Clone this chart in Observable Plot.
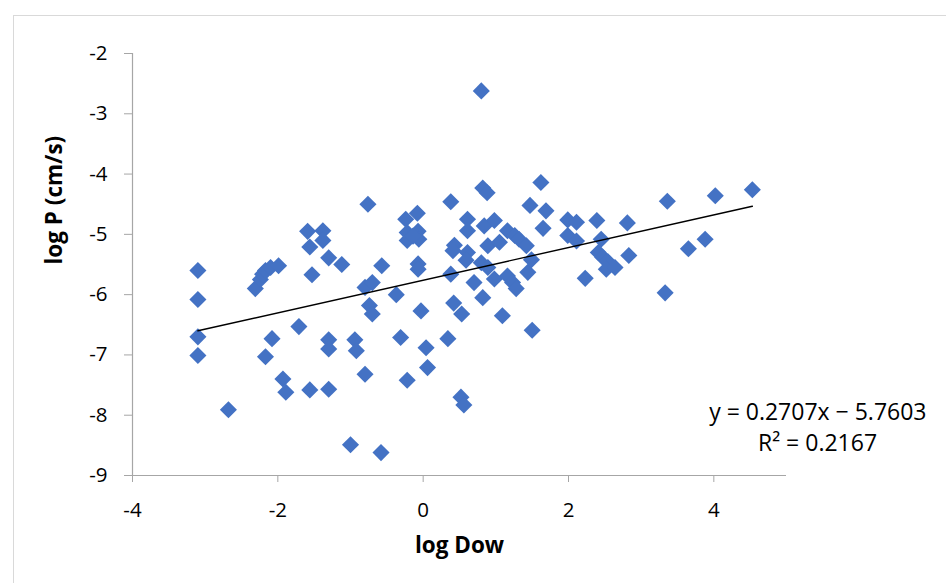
<!DOCTYPE html>
<html>
<head>
<meta charset="utf-8">
<script src="https://cdn.jsdelivr.net/npm/d3@7"></script>
<script src="https://cdn.jsdelivr.net/npm/@observablehq/plot@0.6"></script>
<style>
  html, body { margin: 0; padding: 0; background: #fff; }
  #wrap { position: relative; width: 946px; height: 583px; overflow: hidden; }
  #frame { position: absolute; left: 13px; top: 15px; width: 1000px; height: 1000px; border: 1px solid #d9d9d9; pointer-events: none; }
</style>
</head>
<body>
<div id="wrap"><div id="frame"></div><div id="chart"></div></div>
<script>
const logDow = [-3.10, -3.10, -3.10, -3.10, -2.68, -2.31, -2.24, -2.21, -2.17, -2.10,
  -1.99, -2.17, -2.08, -1.93, -1.89, -1.71, -1.59, -1.56, -1.53, -1.56,
  -1.38, -1.38, -1.30, -1.30, -1.30, -1.30, -1.12, -1.00, -0.94, -0.92,
  -0.80, -0.76, -0.80, -0.70, -0.74, -0.70, -0.57, -0.58, -0.37, -0.31,
  -0.22, -0.24, -0.08, -0.22, -0.07, -0.22, -0.06, -0.14, -0.07, -0.07,
  -0.03, 0.04, 0.06, 0.34, 0.38, 0.43, 0.41, 0.38, 0.42, 0.53,
  0.52, 0.56, 0.61, 0.61, 0.61, 0.59, 0.70, 0.80, 0.82, 0.88,
  0.84, 0.98, 0.89, 1.05, 0.80, 0.89, 0.98, 0.82, 1.09, 1.16,
  1.26, 1.32, 1.42, 1.16, 1.23, 1.28, 1.44, 1.49, 1.50, 1.47,
  1.62, 1.69, 1.65, 1.99, 2.11, 1.99, 2.11, 2.23, 2.39, 2.45,
  2.41, 2.47, 2.54, 2.52, 2.64, 2.81, 2.83, 3.33, 3.36, 3.65,
  3.88, 4.02, 4.53];
const logP = [-5.60, -6.08, -6.70, -7.01, -7.91, -5.90, -5.75, -5.66, -5.60, -5.55,
  -5.52, -7.03, -6.73, -7.40, -7.62, -6.53, -4.95, -5.21, -5.67, -7.58,
  -4.94, -5.10, -5.39, -6.75, -6.90, -7.57, -5.50, -8.49, -6.75, -6.93,
  -7.32, -4.50, -5.88, -5.80, -6.18, -6.32, -5.52, -8.62, -6.00, -6.71,
  -7.42, -4.75, -4.65, -4.97, -4.95, -5.10, -5.08, -5.03, -5.49, -5.58,
  -6.27, -6.88, -7.21, -6.73, -4.46, -5.18, -5.27, -5.66, -6.14, -6.32,
  -7.70, -7.83, -4.75, -4.94, -5.30, -5.43, -5.80, -2.62, -4.23, -4.31,
  -4.86, -4.77, -5.19, -5.13, -5.47, -5.55, -5.74, -6.05, -6.35, -4.94,
  -5.02, -5.08, -5.19, -5.69, -5.80, -5.90, -5.63, -5.42, -6.59, -4.52,
  -4.14, -4.61, -4.90, -4.76, -4.80, -5.02, -5.11, -5.73, -4.77, -5.08,
  -5.30, -5.38, -5.45, -5.58, -5.55, -4.81, -5.35, -5.97, -4.45, -5.24,
  -5.08, -4.36, -4.26];
const slope = 0.2707;
const intercept = -5.7603;
const rSquared = 0.2167;
const xTicks = [-4, -2, 0, 2, 4];
const yTicks = [-2, -3, -4, -5, -6, -7, -8, -9];
const xTitle = "log Dow";
const yTitle = "log P (cm/s)";
const eqLabel = "y = 0.2707x − 5.7603";
const r2Label = "R² = 0.2167";

const points = logDow.map((x, i) => ({x, y: logP[i]}));
const xMin = d3.min(logDow), xMax = d3.max(logDow);
const trend = [xMin, xMax].map(x => ({x, y: slope * x + intercept}));

const axisGray = "#a6a6a6";
const fmt = d => d < 0 ? "-" + Math.abs(d) : String(d);
const chart = Plot.plot({
  width: 946,
  height: 583,
  marginLeft: 132,
  marginRight: 160,
  marginTop: 53,
  marginBottom: 108,
  style: {fontFamily: "'Open Sans', Lato, sans-serif", background: "transparent", color: "#000"},
  x: {domain: [-4, 5]},
  y: {domain: [-9, -2]},
  marks: [
    Plot.ruleY([-9], {stroke: axisGray, strokeWidth: 1.2}),
    Plot.ruleX([-4], {stroke: axisGray, strokeWidth: 1.2}),
    Plot.axisX({ticks: xTicks, tickSize: 7, tickPadding: 20, fontSize: 20.5, stroke: axisGray, fill: "#000", label: null, tickFormat: fmt}),
    Plot.axisY({ticks: yTicks, tickSize: 8, tickPadding: 17, fontSize: 20.5, stroke: axisGray, fill: "#000", label: null, tickFormat: fmt}),
    Plot.dot(points, {x: "x", y: "y", symbol: "diamond2", r: 7.7, fill: "#4472C4", stroke: "none"}),
    Plot.line(trend, {x: "x", y: "y", stroke: "#000", strokeWidth: 1.4}),
    Plot.text([xTitle], {frameAnchor: "bottom", dy: 77, fontSize: 22.5, fontWeight: "bold", fill: "#000"}),
    Plot.text([yTitle], {frameAnchor: "left", dx: -78, rotate: -90, fontSize: 22.5, fontWeight: "bold", fill: "#000"}),
    Plot.text([eqLabel], {frameAnchor: "bottom-right", dx: 140, dy: -56, textAnchor: "end", fontSize: 23, fill: "#000"}),
    Plot.text([r2Label], {frameAnchor: "bottom-right", dx: 31, dy: -25, textAnchor: "middle", fontSize: 23, fill: "#000"})
  ]
});
document.getElementById("chart").appendChild(chart);
</script>
</body>
</html>
